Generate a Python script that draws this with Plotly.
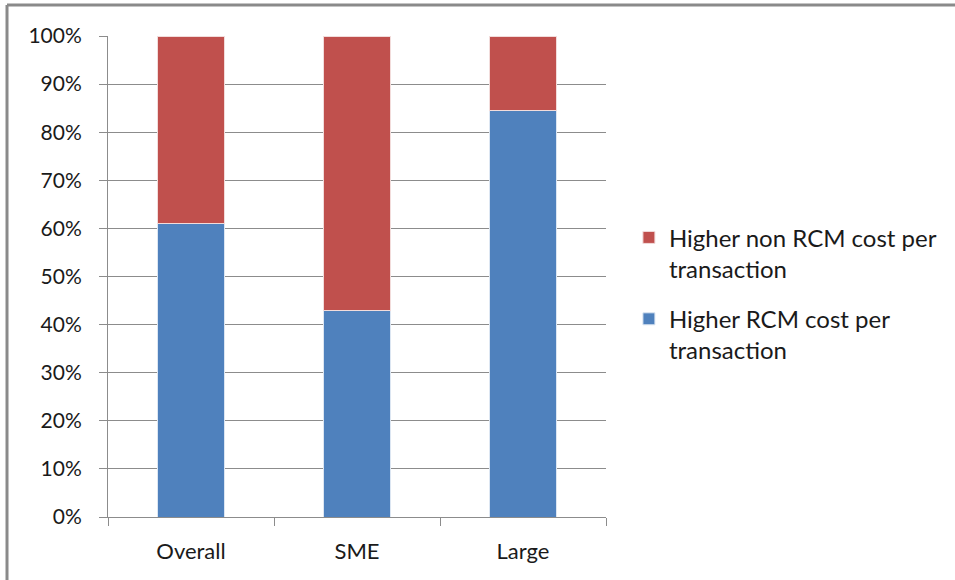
import plotly.graph_objects as go

categories = ["Overall", "SME", "Large"]
rcm_higher = [0.61, 0.43, 0.846]
non_rcm_higher = [0.39, 0.57, 0.154]
series_names = ["Higher RCM cost per<br>transaction", "Higher non RCM cost per<br>transaction"]
y_ticks = [i / 10 for i in range(11)]

BLUE = "#4F81BD"
RED = "#C0504D"
GRID = "#8C8C8C"
FONT = "Lato, 'Open Sans', sans-serif"

fig = go.Figure()
fig.add_trace(go.Bar(x=categories, y=rcm_higher, name=series_names[0],
                     legendgroup="rcm", legendrank=2,
                     marker=dict(color=BLUE, line=dict(color="#DCE6F2", width=1))))
fig.add_trace(go.Bar(x=categories, y=non_rcm_higher, name=series_names[1],
                     legendgroup="non_rcm", legendrank=1,
                     marker=dict(color=RED, line=dict(color="#F2DCDB", width=1))))

fig.update_layout(
    width=955, height=580,
    margin=dict(l=108, r=349, t=36, b=63),
    barmode="stack", bargap=0.6,
    plot_bgcolor="white", paper_bgcolor="white",
    font=dict(family=FONT, size=21, color="#1A1A1A"),
    legend=dict(x=1.046, y=0.464, xanchor="left", yanchor="middle",
                font=dict(size=24), tracegroupgap=16, itemwidth=30,
                valign="top", traceorder="grouped"),
    showlegend=True,
)
fig.update_xaxes(showline=True, linecolor=GRID, linewidth=1, ticks="outside",
                 tickson="boundaries", ticklen=8, tickcolor=GRID,
                 showgrid=False, tickfont=dict(size=22), ticklabelstandoff=15)
fig.update_yaxes(range=[0, 1], tickvals=y_ticks, tickformat=".0%",
                 showline=True, linecolor=GRID, linewidth=1,
                 ticks="outside", ticklen=8, tickcolor=GRID,
                 showgrid=True, gridcolor=GRID, gridwidth=1,
                 zeroline=False, tickfont=dict(size=21), ticklabelstandoff=13)

# chart frame (left and top edges)
fig.add_shape(type="line", xref="paper", yref="paper",
              x0=-0.2028, x1=-0.2028, y0=1.0644, y1=-0.2,
              line=dict(color="#8A8A8A", width=3))
fig.add_shape(type="line", xref="paper", yref="paper",
              x0=-0.2028, x1=1.72, y0=1.0644, y1=1.0644,
              line=dict(color="#8A8A8A", width=3))

fig.write_html("out.html")
